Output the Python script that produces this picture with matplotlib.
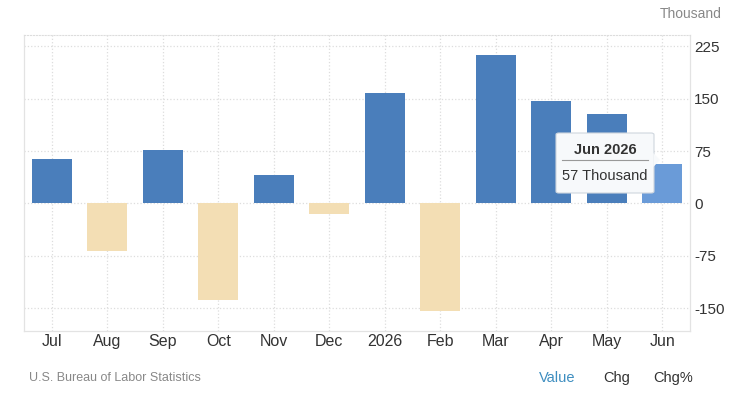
import matplotlib.pyplot as plt
from matplotlib.patches import FancyBboxPatch, Polygon

plt.rcParams['font.family'] = ['Liberation Sans', 'DejaVu Sans']

months = ['Jul', 'Aug', 'Sep', 'Oct', 'Nov', 'Dec', '2026', 'Feb', 'Mar', 'Apr', 'May', 'Jun']
values = [64, -68, 76, -138, 41, -15, 158, -154, 212, 146, 128, 57]
yticks = [-150, -75, 0, 75, 150, 225]

blue = '#4a7ebb'
neg = '#f3deb4'
hilite = '#6a9bd8'

fig = plt.figure(figsize=(7.3, 4.09), dpi=100)
ax = fig.add_axes([0.033, 0.191, 0.912, 0.723])

x = list(range(len(months)))
colors = [blue if v >= 0 else neg for v in values]
colors[-1] = hilite
ax.bar(x, values, width=0.72, color=colors, zorder=2)

ax.set_xlim(-0.5, 11.5)
ax.set_ylim(-182, 240.5)
ax.set_xticks(x)
ax.set_xticklabels(months, fontsize=11.5, color='#333333')
ax.set_yticks(yticks)
ax.set_yticklabels([str(t) for t in yticks], fontsize=11, color='#333333')
ax.yaxis.tick_right()
ax.tick_params(axis='x', length=0, pad=2)
ax.tick_params(axis='y', length=0, pad=3)

ax.grid(True, color='#dddddd', linestyle=':', linewidth=0.9, zorder=0)
ax.spines['top'].set_color('#dddddd')
ax.spines['top'].set_linestyle(':')
for s in ['left', 'right', 'bottom']:
    ax.spines[s].set_color('#e3e3e3')
    ax.spines[s].set_linewidth(0.9)

fig.text(0.988, 0.965, 'Thousand', ha='right', va='center', fontsize=10, color='#888888')
fig.text(0.04, 0.075, 'U.S. Bureau of Labor Statistics', ha='left', va='center', fontsize=9, color='#888888')
fig.text(0.763, 0.075, 'Value', ha='center', va='center', fontsize=10.5, color='#3e8ec0')
fig.text(0.845, 0.075, 'Chg', ha='center', va='center', fontsize=10.5, color='#333333')
fig.text(0.922, 0.075, 'Chg%', ha='center', va='center', fontsize=10.5, color='#333333')

# tooltip
tx0, ty0, tw, th = 556 / 730, 1 - 193 / 409, 98 / 730, 60 / 409
box = FancyBboxPatch((tx0, ty0), tw, th, boxstyle='round,pad=0,rounding_size=0.004',
                     transform=fig.transFigure, facecolor='#f7f9fb', edgecolor='#cfd6de',
                     linewidth=0.8, zorder=10)
fig.patches.append(box)
arrow = Polygon([(tx0 + tw - 0.001, 1 - 153 / 409), (tx0 + tw + 6 / 730, 1 - 160 / 409),
                 (tx0 + tw - 0.001, 1 - 167 / 409)], closed=True, transform=fig.transFigure,
                facecolor='#f7f9fb', edgecolor='none', zorder=11)
fig.patches.append(arrow)
fig.text(tx0 + tw / 2, 1 - 150 / 409, 'Jun 2026', ha='center', va='center', fontsize=10.5,
         fontweight='bold', color='#333333', zorder=12)
fig.add_artist(plt.Line2D([tx0 + 6 / 730, tx0 + tw - 6 / 730], [1 - 160 / 409, 1 - 160 / 409],
                          transform=fig.transFigure, color='#999999', linewidth=0.8, zorder=12))
fig.text(tx0 + tw / 2, 1 - 176 / 409, '57 Thousand', ha='center', va='center', fontsize=10.5,
         color='#333333', zorder=12)

fig.savefig('out.png', dpi=100)
